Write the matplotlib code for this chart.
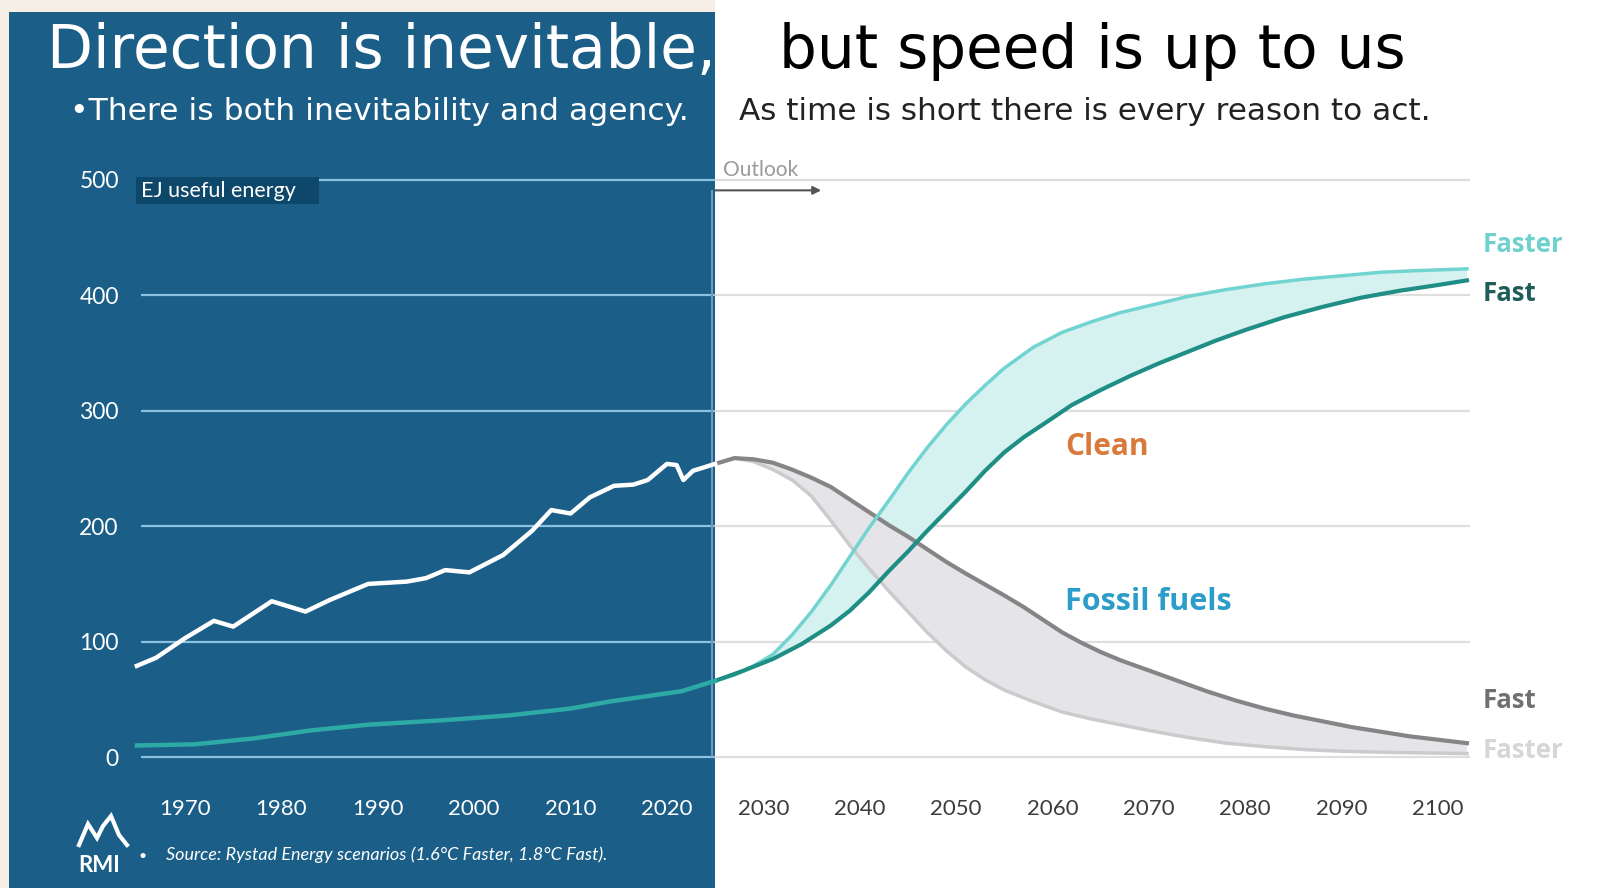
import matplotlib
matplotlib.use("Agg")
import matplotlib.pyplot as plt
from matplotlib.patches import Rectangle
from matplotlib.lines import Line2D

# --- data (EJ useful energy) ---
hist_years = [1965, 1967, 1970, 1973, 1975, 1979, 1982.5, 1985, 1989, 1993, 1995, 1997,
              1999.5, 2003, 2006, 2008, 2010, 2012, 2014.5, 2016.5, 2018, 2020, 2021,
              2021.7, 2022.7, 2025]
hist_fossil = [79, 86, 103, 118, 113, 135, 126, 136, 150, 152, 155, 162,
               160, 175, 196, 214, 211, 225, 235, 236, 240, 254, 253,
               240, 248, 254]

hist_clean_years = [1965, 1971, 1977, 1983, 1989, 1997, 2003.5, 2010, 2014, 2019, 2021.5, 2025]
hist_clean = [10, 11, 16, 23, 28, 32, 36, 42, 48, 54, 57, 66]

fossil_fast_years = [2025, 2027, 2029, 2031, 2033, 2035, 2037, 2039, 2041, 2043, 2045, 2047,
                     2049, 2051, 2053, 2055, 2057, 2059, 2061, 2063, 2065, 2067, 2070, 2073,
                     2076, 2079, 2082, 2085, 2088, 2091, 2094, 2097, 2100, 2103]
fossil_fast = [254, 259, 258, 255, 249, 242, 234, 223, 212, 201, 191, 180,
               169, 159, 149.5, 140, 130, 119, 108, 99, 91, 84, 75, 66,
               57, 49, 42, 36, 31, 26, 22, 18, 15, 12]

fossil_faster_years = [2025, 2027, 2029, 2031, 2033, 2035, 2037, 2039, 2041, 2043, 2045, 2047,
                       2049, 2051, 2053, 2055, 2058, 2061, 2064, 2067, 2070, 2074, 2078, 2082,
                       2086, 2090, 2095, 2103]
fossil_faster = [254, 259, 256, 249, 240, 226, 205, 183, 163, 144, 126, 108,
                 92, 78, 67, 58, 48, 39, 33, 28, 23, 17, 12, 9,
                 6.5, 5, 4, 3]

clean_faster_years = [2025, 2027, 2029, 2031, 2033, 2035, 2037, 2039, 2041, 2043, 2045, 2047,
                      2049, 2051, 2053, 2055, 2058, 2061, 2064, 2067, 2070, 2074, 2078, 2082,
                      2086, 2090, 2094, 2098, 2103]
clean_faster = [66, 71, 79, 89, 106, 126, 149, 174, 199, 222, 246, 268,
                288, 306, 322, 337, 355, 368, 377, 385, 391, 399, 405, 410,
                414, 417, 420, 421.5, 423]

clean_fast_years = [2025, 2028, 2031, 2034, 2037, 2039, 2041, 2043, 2045, 2047, 2049, 2051,
                    2053, 2055, 2057, 2059.7, 2062, 2065, 2068, 2071, 2074, 2077, 2080, 2084,
                    2088, 2092, 2096, 2100, 2103]
clean_fast = [66, 75, 85, 98, 114, 127, 143, 161, 178, 196, 213, 230,
              248, 264, 277, 292, 305, 318, 330, 341, 351, 361, 370, 381,
              390, 398, 404, 409, 413]

x_ticks = list(range(1970, 2101, 10))
y_ticks = [0, 100, 200, 300, 400, 500]
OUTLOOK_START = 2025

# --- colours ---
PANEL = "#1b5e87"
PANEL_DARK = "#0d4769"
BEIGE = "#f6efe5"
GRID_BLUE = "#8cc2df"
GRID_GREY = "#dedede"
TEAL_HIST = "#2eaaa6"
TEAL_FASTER = "#72d4d0"
TEAL_FAST = "#1f8e85"
TEAL_FILL = "#d5f1f0"
GREY_FAST = "#858585"
GREY_FASTER = "#cbcbcb"
GREY_FILL = "#e5e5e9"

W, H = 1614, 888


def fx(px):
    return px / W


def fy(py):
    return 1 - py / H


fig = plt.figure(figsize=(W / 100, H / 100), dpi=100, facecolor="white")

# background: beige margin and the blue history panel
fig.add_artist(Rectangle((0, 0), fx(715), 1, transform=fig.transFigure,
                         facecolor=BEIGE, edgecolor="none", zorder=0))
fig.add_artist(Rectangle((fx(9), 0), fx(715 - 9), fy(12), transform=fig.transFigure,
                         facecolor=PANEL, edgecolor="none", zorder=0))

ax_l, ax_r, ax_t, ax_b = 127.2, 1476.6, 174.2, 762.8
ax = fig.add_axes([fx(ax_l), fy(ax_b), fx(ax_r - ax_l), (ax_b - ax_t) / H])
ax.patch.set_alpha(0)
ax.set_xlim(1964, 2104)
ax.set_ylim(-5, 505)
for s in ax.spines.values():
    s.set_visible(False)

# gridlines, blue side and white side
for v in y_ticks:
    x0 = 1983.9 if v == 500 else 1965.4
    ax.hlines(v, x0, OUTLOOK_START, color=GRID_BLUE, lw=1.6, zorder=1)
    ax.hlines(v, OUTLOOK_START, 2103.3, color=GRID_GREY, lw=1.6, zorder=1)
ax.vlines(2024.65, 0, 491, color="#6a9cbf", lw=1.5, zorder=1)

# ranges between scenarios
ax.fill(clean_faster_years + clean_fast_years[::-1], clean_faster + clean_fast[::-1],
        color=TEAL_FILL, lw=0, zorder=2)
ax.fill(fossil_fast_years + fossil_faster_years[::-1], fossil_fast + fossil_faster[::-1],
        color=GREY_FILL, lw=0, zorder=2)

ax.plot(fossil_faster_years, fossil_faster, color=GREY_FASTER, lw=2.5, zorder=3)
ax.plot(fossil_fast_years, fossil_fast, color=GREY_FAST, lw=3, zorder=4)
ax.plot(clean_faster_years, clean_faster, color=TEAL_FASTER, lw=2.5, zorder=5)
ax.plot(clean_fast_years, clean_fast, color=TEAL_FAST, lw=3, zorder=6)
ax.plot(hist_years, hist_fossil, color="white", lw=3.2, zorder=7, solid_joinstyle="round")
ax.plot(hist_clean_years, hist_clean, color=TEAL_HIST, lw=3.2, zorder=7)

# ticks
ax.set_xticks(x_ticks)
ax.set_yticks(y_ticks)
ax.tick_params(axis="both", length=0)
ax.tick_params(axis="x", pad=26, labelsize=16)
ax.tick_params(axis="y", pad=6, labelsize=16.5, labelcolor="white")
for yr, lab in zip(x_ticks, ax.get_xticklabels()):
    lab.set_color("white" if yr < OUTLOOK_START else "#3c3c3c")
    lab.set_fontfamily("Lato")
for lab in ax.get_yticklabels():
    lab.set_fontfamily("Lato")

# unit label on its dark box
ax.add_patch(Rectangle((1964.9, 479.5), 19.0, 23, facecolor=PANEL_DARK, edgecolor="none",
                       zorder=8, clip_on=False))
ax.text(1965.4, 490.5, "EJ useful energy", color="white", fontsize=15.5, family="Lato",
        va="center", ha="left", zorder=9)

ax.text(2025.8, 509, "Outlook", color="#9a9a9a", fontsize=15, family="Lato",
        va="center", ha="left", clip_on=False)
ax.annotate("", xy=(2036, 491), xytext=(OUTLOOK_START, 491),
            arrowprops=dict(arrowstyle="-|>", color="#555555", lw=1.5,
                            shrinkA=0, shrinkB=0, mutation_scale=12))

# series labels
ax.text(2061.3, 269, "Clean", color="#d97a3c", fontsize=21.5, fontweight="bold",
        family="Open Sans", va="center", ha="left")
ax.text(2061.3, 134, "Fossil fuels", color="#2c9dc9", fontsize=22, fontweight="bold",
        family="Open Sans", va="center", ha="left")
right = dict(fontsize=18.5, fontweight="bold", family="Open Sans", va="center",
             ha="left", clip_on=False)
ax.text(2104.6, 444, "Faster", color="#6fd1cd", **right)
ax.text(2104.6, 402, "Fast", color="#1f5d58", **right)
ax.text(2104.6, 49, "Fast", color="#707070", **right)
ax.text(2104.6, 6, "Faster", color="#d6d6d6", **right)

# headline
fig.text(fx(47), fy(68), "Direction is inevitable,", color="white", fontsize=43,
         family="DejaVu Sans", va="baseline")
fig.text(fx(779), fy(68), "but speed is up to us", color="black", fontsize=43,
         family="DejaVu Sans", va="baseline")
fig.text(fx(70), fy(120), "\u2022There is both inevitability and agency.", color="white",
         fontsize=22.6, family="DejaVu Sans", va="baseline")
fig.text(fx(739), fy(120), "As time is short there is every reason to act.", color="#222222",
         fontsize=22.4, family="DejaVu Sans", va="baseline")

# footer: logo and source
logo_x = [79, 88, 97, 103, 111, 119, 127]
logo_y = [845, 824, 838, 826, 816, 835, 845]
fig.add_artist(Line2D([fx(v) for v in logo_x], [fy(v) for v in logo_y],
                      transform=fig.transFigure, color="white", lw=3, solid_joinstyle="miter"))
fig.text(fx(78), fy(872), "RMI", color="white", fontsize=16, fontweight="bold",
         family="Lato", va="baseline")
fig.text(fx(138), fy(860), "\u2022", color="white", fontsize=10, family="Lato",
         va="baseline")
fig.text(fx(166), fy(860), "Source: Rystad Energy scenarios (1.6\u00b0C Faster, 1.8\u00b0C Fast).",
         color="white", fontsize=13, style="italic", family="Lato", va="baseline")

fig.savefig("out.png", dpi=100, facecolor=fig.get_facecolor())
